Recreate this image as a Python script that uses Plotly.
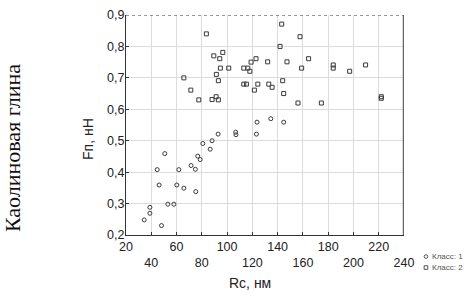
import plotly.graph_objects as go

# Class 1 (rising branch)
x1 = [34.4, 38.9, 38.9, 44.7, 46.2, 48.1, 50.7, 53.1, 57.9, 60.2, 61.8, 65.8,
      71.5, 74.9, 75.2, 76.8, 78.7, 80.8, 86.6, 88.1, 92.9, 106.8, 107.0, 123.2,
      123.7, 134.6, 144.8]
y1 = [0.248, 0.288, 0.269, 0.408, 0.359, 0.23, 0.459, 0.298, 0.298, 0.359, 0.408, 0.349,
      0.421, 0.409, 0.338, 0.451, 0.44, 0.491, 0.473, 0.50, 0.521, 0.527, 0.519, 0.521,
      0.559, 0.57, 0.559]

# Class 2 (upper plateau)
x2 = [65.8, 71.3, 77.6, 83.6, 88.1, 91.3, 93.1, 89.5, 96.6, 94.2, 94.7, 101.3,
      91.5, 93.1, 113.2, 116.4, 118.0, 119.0, 122.9, 132.1, 113.2, 115.3, 124.3,
      121.6, 133.0, 135.6, 143.2, 157.7, 141.9, 147.4, 164.5, 159.0, 144.0, 144.8,
      156.1, 174.6, 184.0, 184.0, 197.0, 209.6, 222.0, 222.0]
y2 = [0.70, 0.661, 0.63, 0.84, 0.631, 0.64, 0.63, 0.77, 0.781, 0.761, 0.731, 0.731,
      0.711, 0.691, 0.731, 0.731, 0.721, 0.75, 0.761, 0.751, 0.68, 0.68, 0.68,
      0.661, 0.68, 0.67, 0.871, 0.831, 0.80, 0.751, 0.761, 0.731, 0.691, 0.65,
      0.62, 0.62, 0.741, 0.731, 0.721, 0.741, 0.64, 0.635]

class_names = ["Класс: 1", "Класс: 2"]

x_ticks = [20, 40, 60, 80, 100, 120, 140, 160, 180, 200, 220, 240]
x_ticktext = [str(v) if i % 2 == 0 else "<br>" + str(v) for i, v in enumerate(x_ticks)]
y_ticks = [0.2, 0.3, 0.4, 0.5, 0.6, 0.7, 0.8, 0.9]
y_ticktext = ["0,2", "0,3", "0,4", "0,5", "0,6", "0,7", "0,8", "0,9"]

mcol = "#3a3a3a"
fig = go.Figure()
fig.add_trace(go.Scatter(x=x1, y=y1, mode="markers", name=class_names[0],
                         marker=dict(symbol="circle-open", size=4, color=mcol,
                                     line=dict(width=1, color=mcol))))
fig.add_trace(go.Scatter(x=x2, y=y2, mode="markers", name=class_names[1],
                         marker=dict(symbol="square-open", size=4, color=mcol,
                                     line=dict(width=1, color=mcol))))

font_fam = "Liberation Sans, Arial, sans-serif"
lg_col = "#555"
lx, ly1, ly2 = 1.079, -0.098, -0.148
fig.update_layout(
    width=469, height=296,
    margin=dict(l=126, r=65, t=15, b=61, autoexpand=False),
    paper_bgcolor="white", plot_bgcolor="white",
    font=dict(family=font_fam, color="#222", size=12),
    showlegend=False,
    xaxis=dict(range=[20, 240], tickvals=x_ticks, ticktext=x_ticktext,
               tickangle=0, ticklabeloverflow="allow",
               showgrid=True, gridcolor="#dcdcdc", gridwidth=1,
               showline=True, linecolor="#333", linewidth=1,
               ticks="inside", ticklen=3, tickcolor="#333",
               zeroline=False, tickfont=dict(size=12.5, color="#222")),
    yaxis=dict(range=[0.2, 0.9], tickvals=y_ticks, ticktext=y_ticktext,
               ticklabeloverflow="allow", ticklabelstandoff=-2,
               showgrid=True, gridcolor="#dcdcdc", gridwidth=1,
               showline=True, linecolor="#333", linewidth=1,
               ticks="inside", ticklen=3, tickcolor="#333",
               zeroline=False, tickfont=dict(size=12.5, color="#222")),
    shapes=[
        dict(type="line", xref="x", yref="y", x0=20, x1=240, y0=0.9, y1=0.9,
             line=dict(color="#333", width=1, dash="dot")),
        dict(type="line", xref="x", yref="y", x0=240, x1=240, y0=0.2, y1=0.9,
             line=dict(color="#666", width=2.5)),
        # legend symbols
        dict(type="circle", xref="paper", yref="paper",
             x0=lx - 0.0065, x1=lx + 0.0065, y0=ly1 - 0.0082, y1=ly1 + 0.0082,
             line=dict(color=lg_col, width=1)),
        dict(type="rect", xref="paper", yref="paper",
             x0=lx - 0.0065, x1=lx + 0.0065, y0=ly2 - 0.0082, y1=ly2 + 0.0082,
             line=dict(color=lg_col, width=1)),
    ],
    annotations=[
        dict(text="Rc, нм", xref="paper", yref="paper", x=0.446, y=-0.218,
             xanchor="center", yanchor="middle", showarrow=False,
             font=dict(size=14, family=font_fam, color="#222")),
        dict(text="Fп, нН", xref="paper", yref="paper", x=-0.137, y=0.436,
             xanchor="center", yanchor="middle", showarrow=False, textangle=-90,
             font=dict(size=14, family=font_fam, color="#222")),
        dict(text="Каолиновая глина", xref="paper", yref="paper", x=-0.41, y=0.395,
             xanchor="center", yanchor="middle", showarrow=False, textangle=-90,
             font=dict(size=22, family="Liberation Serif, Times New Roman, serif",
                       color="#111")),
        dict(text=class_names[0], xref="paper", yref="paper", x=1.097, y=ly1,
             xanchor="left", yanchor="middle", showarrow=False, borderpad=0,
             font=dict(size=8, family=font_fam, color=lg_col)),
        dict(text=class_names[1], xref="paper", yref="paper", x=1.097, y=ly2,
             xanchor="left", yanchor="middle", showarrow=False, borderpad=0,
             font=dict(size=8, family=font_fam, color=lg_col)),
    ],
)

fig.write_html("out.html", config={"displayModeBar": False},
               post_script="document.body.style.margin='0';document.body.style.overflow='hidden';")
